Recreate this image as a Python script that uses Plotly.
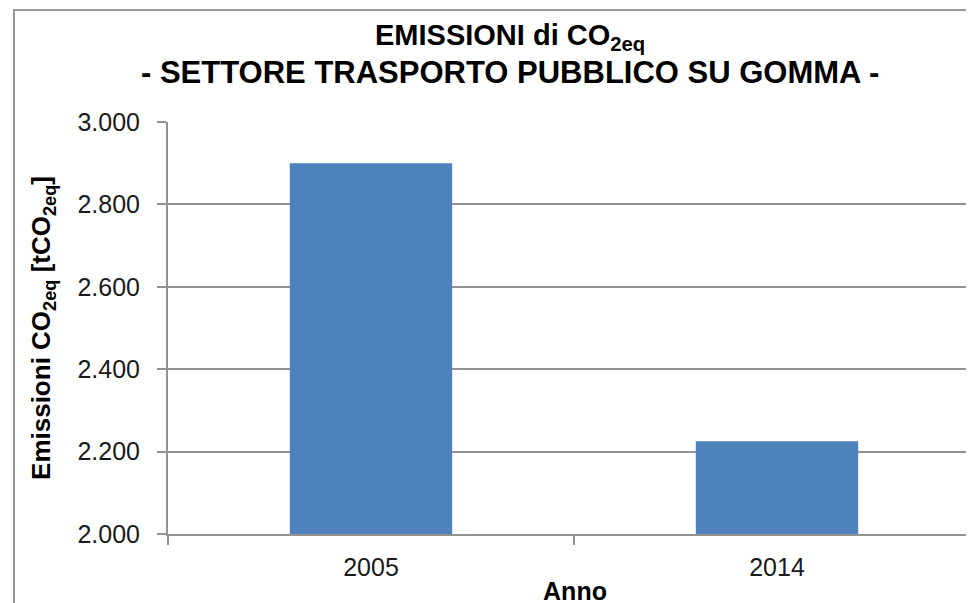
import plotly.graph_objects as go

anni = ["2005", "2014"]
emissioni = [2900, 2225]
y_ticks = [2000, 2200, 2400, 2600, 2800, 3000]
y_tick_labels = ["2.000", "2.200", "2.400", "2.600", "2.800", "3.000"]
titolo = ["<b>EMISSIONI di CO<sub>2eq</sub></b>", "<b>- SETTORE TRASPORTO PUBBLICO SU GOMMA -</b>"]

FONT = "Liberation Sans, Arial, sans-serif"
GRID = "#929292"

# page body has an 8px margin, so the figure sits at (8, 8) on screen
L, T, B = 160, 114, 77
W, H = 974, 603
plot_w = W - L
plot_h = H - T - B

fig = go.Figure()
fig.add_bar(
    x=anni,
    y=emissioni,
    width=0.4,
    marker=dict(color="#4f81bd", line=dict(width=0)),
    showlegend=False,
)

fig.update_layout(
    width=W,
    height=H,
    margin=dict(l=L, r=0, t=T, b=B),
    paper_bgcolor="white",
    plot_bgcolor="white",
    font=dict(family=FONT, color="#1a1a1a"),
    annotations=[
        dict(
            text=titolo[0],
            xref="paper",
            yref="paper",
            x=(502 - L) / plot_w,
            y=(H - B - 29) / plot_h,
            xanchor="center",
            yanchor="middle",
            showarrow=False,
            font=dict(size=29, color="#000000"),
        ),
        dict(
            text=titolo[1],
            xref="paper",
            yref="paper",
            x=(502 - L) / plot_w,
            y=(H - B - 65) / plot_h,
            xanchor="center",
            yanchor="middle",
            showarrow=False,
            font=dict(size=31, color="#000000"),
        ),
    ],
    shapes=[
        dict(
            type="rect",
            xref="paper",
            yref="paper",
            x0=(6 - L) / plot_w,
            x1=1.2,
            y0=-0.4,
            y1=(H - B - 2) / plot_h,
            line=dict(color="#999999", width=2),
            layer="below",
        )
    ],
)

fig.update_xaxes(
    type="category",
    range=[-0.5, -0.5 + plot_w / 406],
    showgrid=False,
    showline=True,
    linecolor=GRID,
    linewidth=2,
    ticks="outside",
    tickson="boundaries",
    ticklen=9,
    tickcolor=GRID,
    tickwidth=2,
    ticklabelstandoff=10,
    tickfont=dict(size=25, color="#1a1a1a"),
    title=dict(text="<b>Anno</b>", font=dict(size=25, color="#000000"), standoff=2),
)

fig.update_yaxes(
    range=[2000, 3000],
    tickvals=y_ticks,
    ticktext=y_tick_labels,
    showgrid=True,
    gridcolor=GRID,
    gridwidth=2,
    showline=True,
    linecolor=GRID,
    linewidth=2,
    ticks="outside",
    ticklen=9,
    tickcolor=GRID,
    tickwidth=2,
    ticklabelstandoff=12,
    zeroline=False,
    tickfont=dict(size=25, color="#1a1a1a"),
    title=dict(
        text="<b>Emissioni CO<sub>2eq</sub> [tCO<sub>2eq</sub>]</b>",
        font=dict(size=26, color="#000000"),
        standoff=19,
    ),
)

fig.write_html("out.html")
